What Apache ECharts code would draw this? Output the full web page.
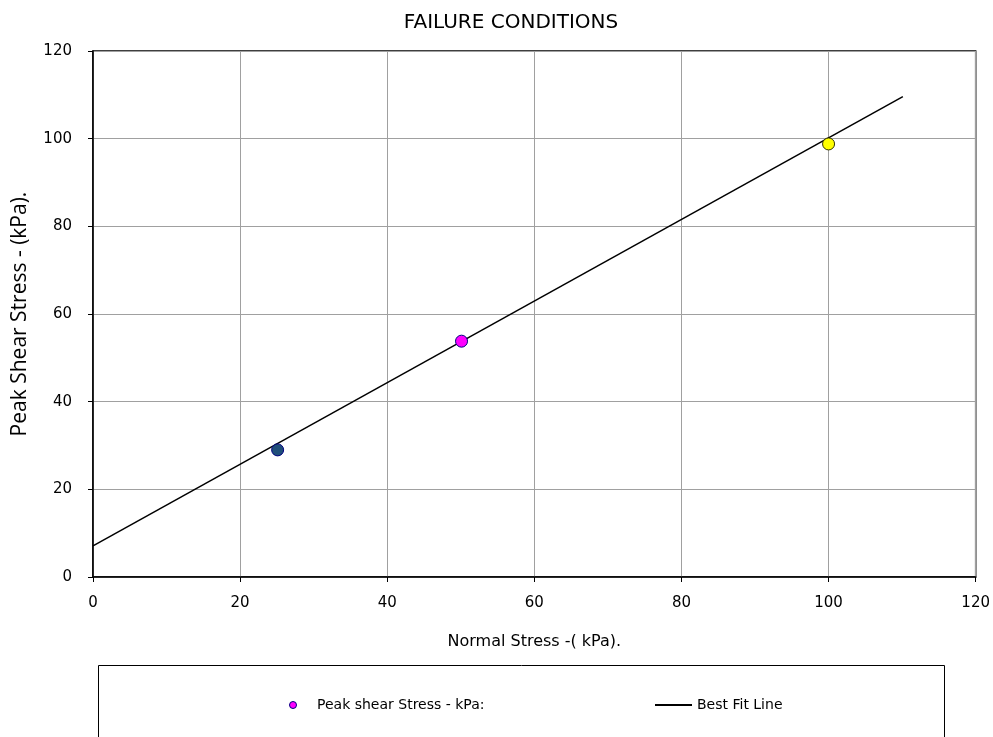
<!DOCTYPE html>
<html>
<head>
<meta charset="utf-8">
<script src="https://cdn.jsdelivr.net/npm/echarts@6/dist/echarts.min.js"></script>
<style>
  html, body { margin: 0; padding: 0; background: #fff; }
  #chart { width: 993px; height: 737px; }
</style>
</head>
<body>
<div id="chart"></div>
<script>
// Direct shear test results: normal stress vs peak shear stress (kPa)
const normalStress = [25.1, 50.1, 100.0];
const peakShear = [29.0, 53.8, 98.8];
const pointColors = ['#1F4E79', '#FF00FF', '#FFFF00'];

// Best fit (Mohr-Coulomb) line end points
const fitX = [0, 110.1];
const fitY = [7.1, 109.6];

const xTicks = { min: 0, max: 120, interval: 20 };
const yTicks = { min: 0, max: 120, interval: 20 };

const FONT = 'DejaVu Sans';
const SCATTER_NAME = 'Peak shear Stress - kPa:';
const LINE_NAME = 'Best Fit Line';

const chart = echarts.init(document.getElementById('chart'), null, { renderer: 'canvas' });

chart.setOption({
  animation: false,
  backgroundColor: '#ffffff',
  title: {
    text: 'FAILURE CONDITIONS',
    left: 506, top: 8,
    textAlign: 'center',
    textStyle: { fontFamily: FONT, fontSize: 20, fontWeight: 'normal', color: '#000' }
  },
  grid: {
    left: 93, right: 17, top: 51, bottom: 160,
    show: true, borderColor: '#000', borderWidth: 1.5, backgroundColor: '#fff'
  },
  xAxis: {
    type: 'value',
    min: xTicks.min, max: xTicks.max, interval: xTicks.interval,
    name: 'Normal Stress -( kPa).',
    nameLocation: 'middle',
    nameGap: 57,
    nameTextStyle: { fontFamily: FONT, fontSize: 16, color: '#000' },
    axisLine: { show: true, onZero: false, lineStyle: { color: '#000', width: 1.5 } },
    axisTick: { show: true, inside: false, length: 5, lineStyle: { color: '#000' } },
    axisLabel: { fontFamily: FONT, fontSize: 15, color: '#000', margin: 19 },
    splitLine: { show: true, lineStyle: { color: '#A0A0A0', width: 1 } }
  },
  yAxis: {
    type: 'value',
    min: yTicks.min, max: yTicks.max, interval: yTicks.interval,
    name: 'Peak Shear Stress - (kPa).',
    nameLocation: 'middle',
    nameGap: 62,
    nameTextStyle: { fontFamily: 'Open Sans', fontSize: 21, color: '#000' },
    axisLine: { show: true, onZero: false, lineStyle: { color: '#000', width: 1.5 } },
    axisTick: { show: true, inside: false, length: 5, lineStyle: { color: '#000' } },
    axisLabel: { fontFamily: FONT, fontSize: 15, color: '#000', margin: 21 },
    splitLine: { show: true, lineStyle: { color: '#A0A0A0', width: 1 } }
  },
  legend: [
    {
      left: 289, top: 698, padding: 0,
      itemWidth: 38, itemHeight: 7,
      textStyle: { fontFamily: FONT, fontSize: 14, color: '#000' },
      data: [{ name: SCATTER_NAME, icon: 'circle', itemStyle: { color: '#FF00FF', borderColor: '#000080', borderWidth: 1, opacity: 1 } }]
    },
    {
      left: 655, top: 698, padding: 0,
      itemWidth: 37, itemHeight: 2,
      textStyle: { fontFamily: FONT, fontSize: 14, color: '#000' },
      data: [{ name: LINE_NAME, icon: 'rect', itemStyle: { color: '#000', borderWidth: 0 } }]
    }
  ],
  graphic: [
    {
      type: 'rect',
      shape: { x: 98.5, y: 665.5, width: 846, height: 100 },
      style: { fill: 'none', stroke: '#000', lineWidth: 1 },
      silent: true, z: -1
    }
  ],
  series: [
    {
      name: LINE_NAME,
      type: 'line',
      data: fitX.map((x, i) => [x, fitY[i]]),
      symbol: 'none',
      lineStyle: { color: '#000', width: 1.5 },
      itemStyle: { color: '#000' },
      z: 2
    },
    {
      name: SCATTER_NAME,
      type: 'scatter',
      symbol: 'circle',
      symbolSize: 12,
      itemStyle: { color: '#FF00FF', borderColor: '#000080', borderWidth: 1, opacity: 1 },
      data: normalStress.map((x, i) => ({
        value: [x, peakShear[i]],
        itemStyle: { color: pointColors[i], borderColor: i === 2 ? '#333300' : '#000080', borderWidth: 1, opacity: 1 }
      })),
      z: 3
    }
  ]
});
</script>
</body>
</html>
